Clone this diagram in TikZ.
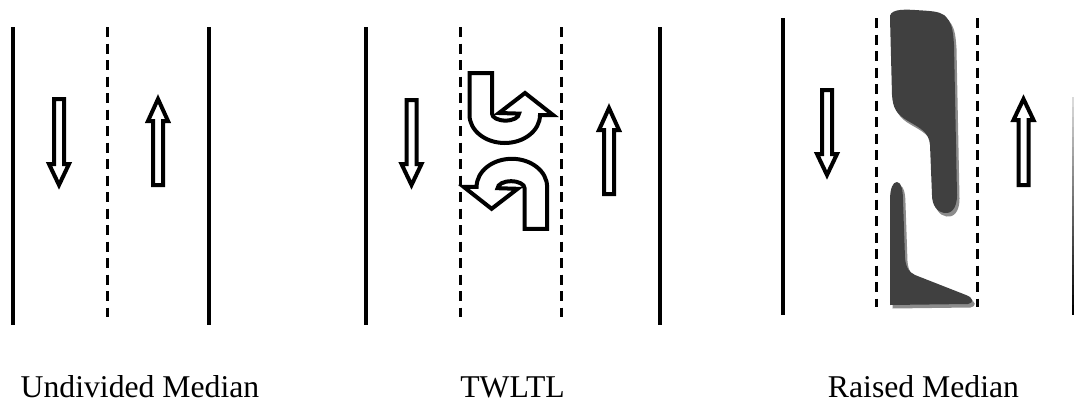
\documentclass[tikz,border=0pt]{standalone}
\usepackage{fontspec}
\setmainfont{Liberation Serif}
\definecolor{island}{HTML}{404040}
\definecolor{shadowgray}{HTML}{8C8C8C}
\newcommand{\laneArrow}[4]{\draw[hollow] (#1-5,#2) -- (#1+5,#2) -- (#1+5,#3) -- (#1+10,#3) -- (#1,#4) -- (#1-10,#3) -- (#1-5,#3) -- cycle;}
\newcommand{\upperIsland}{(890,18) .. controls (889,10) and (900,9) .. (915,10) .. controls (930,11) and (938,11) .. (944,15) .. controls (952,22) and (953,30) .. (954,45) -- (957,195) .. controls (957,210) and (950,214) .. (944,213) .. controls (937,212) and (932,205) .. (932,195) -- (930,145) .. controls (929,132) and (920,128) .. (908,121) .. controls (896,114) and (893,108) .. (892,95) -- cycle}
\newcommand{\lowerIsland}{(890,305) -- (890,200) .. controls (890,188) and (893,182) .. (897,182) .. controls (901,182) and (903,190) .. (903,200) -- (905,258) .. controls (906,268) and (909,272) .. (915,275) -- (966,295) .. controls (974,298) and (974,303) .. (968,304) -- cycle}
\begin{document}
\begin{tikzpicture}[x=1pt,y=-1pt,
  road/.style={line width=4.2pt},
  lane/.style={line width=3pt, dash pattern=on 10pt off 6.5pt},
  hollow/.style={draw=black, fill=white, line width=4pt, line join=miter, miter limit=10},
  lbl/.style={font=\fontsize{31.7}{38}\selectfont, anchor=base, inner sep=0pt},
  uturn/.pic={
    \draw[hollow] (-38.8,-77.9) -- (-16.3,-77.9) -- (-16.3,-37.3)
      arc[start angle=180, end angle=0, x radius=13.5, y radius=7]
      -- (-9.3,-37.9) -- (16.7,-57.9) -- (44.7,-35.9) -- (31.7,-35.9)
      arc[start angle=0, end angle=180, x radius=35.25, y radius=28]
      -- cycle;
  }]
\useasboundingbox (0,0) rectangle (1074,402);

% Panel 1: undivided
\draw[road] (13,27) -- (13,325);
\draw[lane] (107,27) -- (107,317);
\draw[road] (209,27) -- (209,325);
\laneArrow{59}{99}{164}{185}
\laneArrow{158}{185}{121}{99}

% Panel 2: TWLTL
\draw[road] (366,27) -- (366,325);
\draw[lane] (460,27) -- (460,317);
\draw[lane] (561,27) -- (561,317);
\draw[road] (660,27) -- (660,325);
\laneArrow{411.5}{100}{164}{185}
\laneArrow{609}{194}{130}{108}
\pic at (508.3,150.9) {uturn};
\pic[rotate=180] at (508.3,150.9) {uturn};

% Panel 3: raised median
\draw[road] (783,18) -- (783,315);
\draw[lane] (876,18) -- (876,307);
\draw[lane] (977,18) -- (977,307);
\fill[shadowgray, shift={(2.5,3.5)}] \upperIsland;
\fill[shadowgray, shift={(2.5,3.5)}] \lowerIsland;
\fill[island] \upperIsland;
\fill[island] \lowerIsland;
\laneArrow{827}{90}{154}{175}
\laneArrow{1023.5}{185}{120}{99}
\foreach \i in {0,...,21} {
  \pgfmathsetmacro\c{15+\i*85/21}
  \draw[line width=1.6pt, draw=black!\c] (1073.2,97+\i*9.9) -- (1073.2,107+\i*9.9);
}

% Labels
\node[lbl] (l1) at (140,397) {Undivided Median};
\node[lbl] (l2) at (512.5,397) {TWLTL};
\node[lbl] (l3) at (923.5,397) {Raised Median};
\end{tikzpicture}
\end{document}
